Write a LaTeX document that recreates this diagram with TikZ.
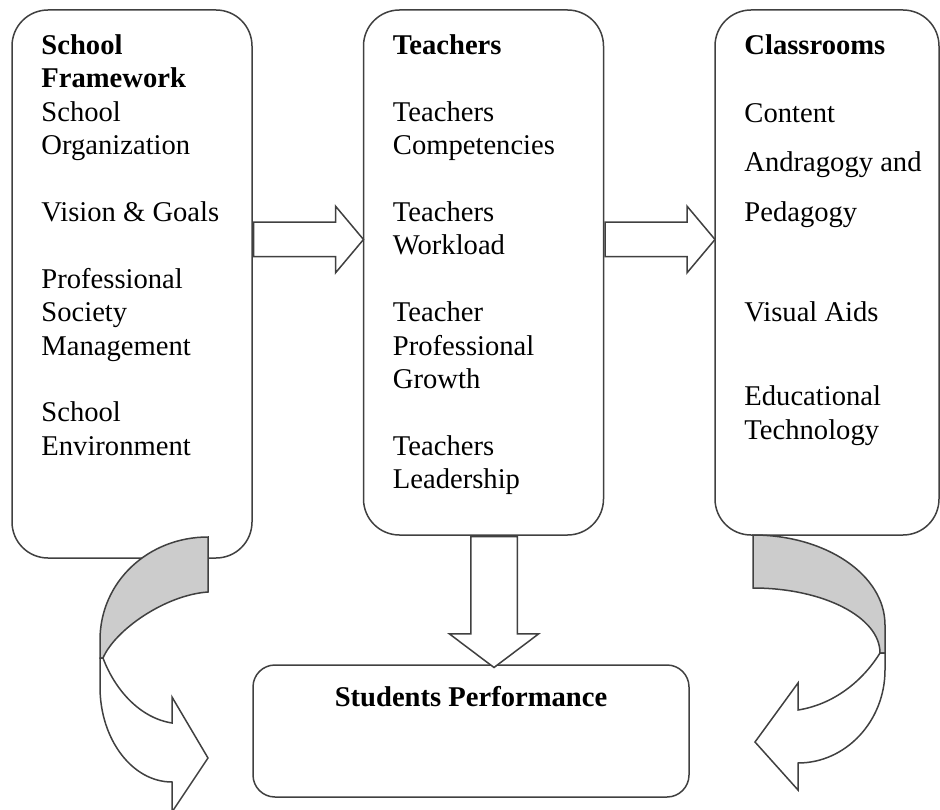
\documentclass[tikz,border=0pt]{standalone}
\usepackage{fontspec}
\setmainfont{Liberation Serif}
\usetikzlibrary{positioning,shapes.arrows}

\begin{document}
\begin{tikzpicture}[x=1pt,y=-1pt,
    panel/.style={draw=black!75,line width=1.5pt,rounded corners=36pt,minimum width=240pt,minimum height=525pt},
    entry/.style={align=left,anchor=north west,inner sep=0pt,font=\fontsize{28.6}{33.4}\selectfont},
    blockarrow/.style={single arrow,draw=black!75,line width=1.5pt,fill=white,inner sep=0pt,inner ysep=16.5pt,
                       single arrow head extend=16pt,single arrow tip angle=100,minimum height=110pt,anchor=tail},
    back/.style={draw=black!75,line width=1.5pt,fill=black!20},
    front/.style={draw=black!75,line width=1.5pt,fill=white}]

  \useasboundingbox (0,0) rectangle (940,810);

  % the three columns
  \node[panel,minimum height=548pt] (framework) at (132,284) {};
  \node[panel,right=110pt of framework.north east,anchor=north west] (teachers) {};
  \node[panel,minimum width=224pt,right=110pt of teachers.north east,anchor=north west] (classrooms) {};
  \node[panel,rounded corners=22pt,minimum width=436pt,minimum height=132pt] (performance) at (471,731) {};

  \node[entry] (framework text) at ([xshift=30pt,yshift=-21.6pt]framework.north west)
    {\strut\textbf{School}\\\textbf{Framework}\\School\\Organization\\[33.4pt]Vision \& Goals\\[33.4pt]%
     Professional\\Society\\Management\\[33.4pt]School\\Environment};
  \node[entry] (teachers text) at ([xshift=30pt,yshift=-21.6pt]teachers.north west)
    {\strut\textbf{Teachers}\\[33.4pt]Teachers\\Competencies\\[33.4pt]Teachers\\Workload\\[33.4pt]%
     Teacher\\Professional\\Growth\\[33.4pt]Teachers\\Leadership};
  \node[entry] (classrooms text) at ([xshift=30pt,yshift=-21.6pt]classrooms.north west)
    {\strut\textbf{Classrooms}\\[34.6pt]Content\\[15.6pt]Andragogy and\\[16.6pt]Pedagogy\\[67pt]%
     Visual Aids\\[50.6pt]Educational\\Technology};
  \node[anchor=base,inner sep=0pt,font=\fontsize{28.6}{33.4}\selectfont\bfseries] (performance text)
    at ([yshift=-42pt]performance.north) {Students Performance};

  % straight block arrows
  \node[blockarrow] (flow1) at ([yshift=44.5pt]framework.east) {};
  \node[blockarrow] (flow2) at ([yshift=33pt]teachers.east) {};
  \node[blockarrow,shape border rotate=270,inner sep=22.5pt,single arrow head extend=21.5pt,
        single arrow tip angle=106,minimum height=131pt] (flow3) at ([xshift=10.5pt]teachers.south) {};

  % curved arrow on the left
  \draw[back] (208,537) .. controls (148,537) and (100,582) .. (100,640) -- (100,658) -- (103,658)
    .. controls (115,630) and (165,595) .. (208,592) -- cycle;
  \draw[front] (100,658) -- (100,687) .. controls (100,739) and (132,782) .. (172,782) -- (172,812)
    -- (208,758) -- (172,697) -- (172,723) .. controls (140,718) and (115,690) .. (103,658) -- cycle;

  % curved arrow on the right
  \draw[back] (753,535) .. controls (826,535) and (885,575) .. (885,625) -- (885,653) -- (880,653)
    .. controls (880,617) and (823,588) .. (753,588) -- cycle;
  \draw[front] (885,653) -- (885,670) .. controls (885,721) and (846,763) .. (798,763) -- (798,790)
    -- (755,742) -- (798,683) -- (798,710) .. controls (830,705) and (860,685) .. (880,653) -- cycle;
\end{tikzpicture}
\end{document}
